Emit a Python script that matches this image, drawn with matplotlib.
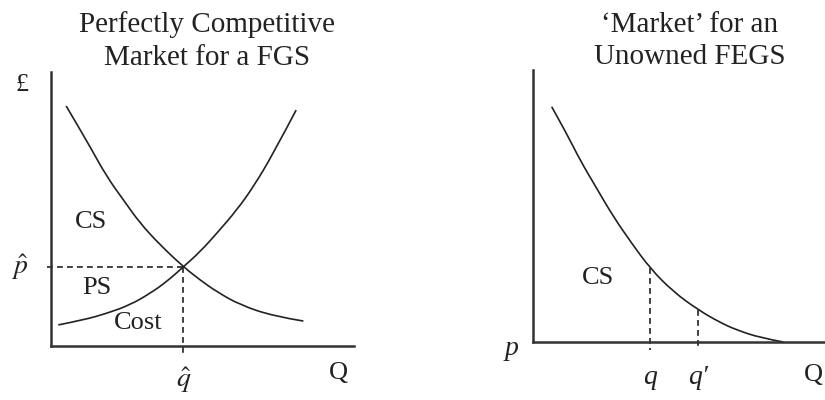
import numpy as np
import matplotlib
matplotlib.use("Agg")
import matplotlib.pyplot as plt
from matplotlib.path import Path
from matplotlib.patches import PathPatch

plt.rcParams['font.family'] = ['Liberation Serif', 'DejaVu Serif']
plt.rcParams['mathtext.fontset'] = 'stix'

# left panel: perfectly competitive market (axis units 0..10)
demand_q = [0.50, 0.74, 1.29, 1.84, 2.39, 2.94, 3.60, 4.37, 4.92, 5.47, 6.24, 7.34, 8.33]
demand_p = [8.76, 8.31, 7.27, 6.18, 5.33, 4.48, 3.69, 2.89, 2.41, 1.98, 1.50, 1.09, 0.91]
supply_q = [0.24, 1.07, 1.84, 2.61, 3.27, 3.82, 4.37, 4.92, 5.47, 6.13, 6.68, 7.34, 8.09]
supply_p = [0.77, 0.95, 1.19, 1.50, 1.92, 2.35, 2.89, 3.44, 4.11, 4.96, 5.81, 7.03, 8.61]
q_hat = 4.37
p_hat = 2.89

# right panel: unowned FEGS
fegs_q = [0.64, 1.15, 1.61, 2.18, 2.75, 3.38, 4.01, 4.80, 5.66, 6.40, 6.98, 7.77, 8.57]
fegs_p = [8.65, 7.67, 6.69, 5.65, 4.61, 3.63, 2.71, 1.85, 1.18, 0.72, 0.44, 0.16, 0.0]
q_marks = [4.01, 5.66]
q_mark_labels = ['q', 'q\u2032']

W, H = 825, 400
fig = plt.figure(figsize=(8.25, 4), dpi=100)
ink = '#222222'

def make_axes(x0, y_top, x1, y_bot):
    ax = fig.add_axes([x0 / W, 1 - y_bot / H, (x1 - x0) / W, (y_bot - y_top) / H])
    ax.set_xlim(0, 10)
    ax.set_ylim(0, 10)
    for s in ['top', 'right']:
        ax.spines[s].set_visible(False)
    for s in ['left', 'bottom']:
        ax.spines[s].set_linewidth(1.8)
        ax.spines[s].set_color('#333333')
    ax.set_xticks([])
    ax.set_yticks([])
    ax.patch.set_alpha(0)
    return ax

def smooth_curve(ax, xs, ys, **kw):
    # quadratic bezier path through the midpoints of the read points
    pts = list(zip(xs, ys))
    verts = [pts[0]]
    codes = [Path.MOVETO]
    for i in range(1, len(pts) - 1):
        nxt = pts[i + 1] if i == len(pts) - 2 else ((pts[i][0] + pts[i + 1][0]) / 2, (pts[i][1] + pts[i + 1][1]) / 2)
        verts += [pts[i], nxt]
        codes += [Path.CURVE3, Path.CURVE3]
    ax.add_patch(PathPatch(Path(verts, codes), fill=False, **kw))

lw = 1.2
dash = (0, (3.5, 2.5))
fs = 19
tfs = 21

ax1 = make_axes(51, 72, 354, 346)
smooth_curve(ax1, demand_q, demand_p, edgecolor=ink, lw=lw)
smooth_curve(ax1, supply_q, supply_p, edgecolor=ink, lw=lw)
ax1.plot([-0.13, q_hat], [p_hat, p_hat], color=ink, lw=lw, ls=dash, clip_on=False)
ax1.plot([q_hat, q_hat], [p_hat, -0.33], color=ink, lw=lw, ls=dash, clip_on=False)
ax1.text(-0.96, 9.53, '£', fontsize=fs, ha='center', va='center', color=ink)
ax1.text(-1.02, p_hat, r'$\hat{p}$', fontsize=fs + 1, ha='center', va='center', color=ink)
ax1.text(q_hat, -1.24, r'$\hat{q}$', fontsize=fs + 1, ha='center', va='center', color=ink)
ax1.text(9.47, -0.99, 'Q', fontsize=fs, ha='center', va='center', color=ink)
ax1.text(1.32, 4.53, 'CS', fontsize=fs, ha='center', va='center', color=ink)
ax1.text(1.52, 2.12, 'PS', fontsize=fs, ha='center', va='center', color=ink)
ax1.text(2.87, 0.84, 'Cost', fontsize=fs, ha='center', va='center', color=ink)

ax2 = make_axes(533, 70, 825, 342)
smooth_curve(ax2, fegs_q, fegs_p, edgecolor=ink, lw=lw)
for qm, lab in zip(q_marks, q_mark_labels):
    pm = np.interp(qm, fegs_q, fegs_p)
    ax2.plot([qm, qm], [pm, -0.29], color=ink, lw=lw, ls=dash, clip_on=False)
    ax2.text(qm, -1.32, lab, fontsize=fs + 1, ha='center', va='center',
             style='italic', color=ink)
ax2.text(-0.72, -0.25, 'p', fontsize=fs + 1, ha='center', va='center', style='italic', color=ink)
ax2.text(9.6, -1.21, 'Q', fontsize=fs, ha='center', va='center', color=ink)
ax2.text(2.23, 2.35, 'CS', fontsize=fs, ha='center', va='center', color=ink)

fig.text(207 / W, 1 - 41 / H, 'Perfectly Competitive\nMarket for a FGS', fontsize=tfs,
         ha='center', va='center', linespacing=1.32, color=ink)
fig.text(690 / W, 1 - 41 / H, '\u2018Market\u2019 for an\nUnowned FEGS', fontsize=tfs,
         ha='center', va='center', linespacing=1.32, color=ink)

fig.savefig('out.png', dpi=100)
